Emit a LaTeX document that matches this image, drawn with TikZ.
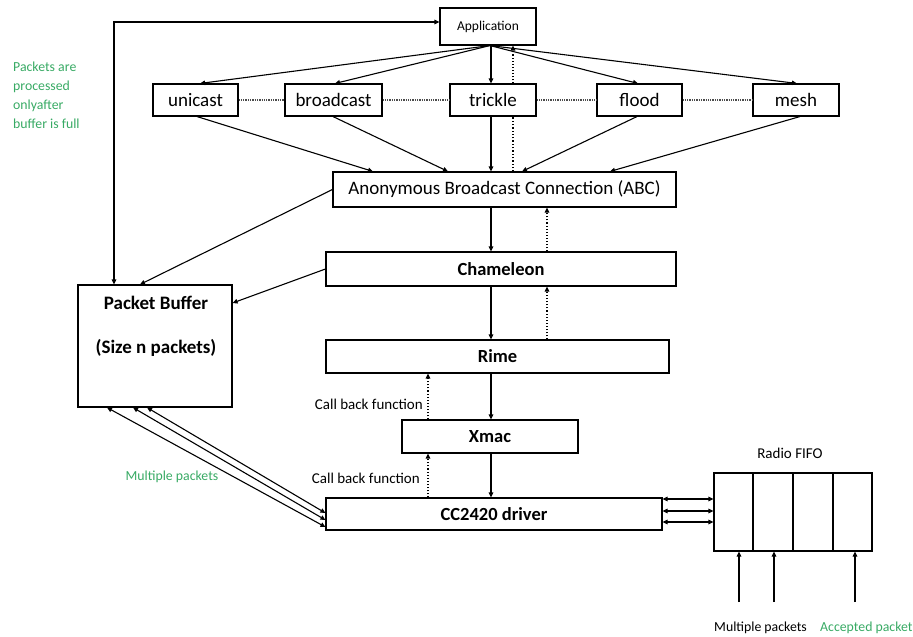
\documentclass[tikz,border=0pt]{standalone}
\usepackage{fontspec}
\setmainfont{Carlito}
\usetikzlibrary{arrows.meta,calc}
\definecolor{grn}{RGB}{56,170,100}
\begin{document}
\begin{tikzpicture}[x=1pt,y=-1pt,
  box/.style={draw, line width=1.1pt, inner sep=0pt, font=\fontsize{19}{22}\selectfont},
  bbox/.style={box, font=\fontsize{18.5}{21}\selectfont\bfseries},
  ar/.style={line width=1.1pt, -{Triangle[length=5pt,width=4.5pt]}},
  dar/.style={ar, dotted, line width=1.3pt},
  bar/.style={line width=1.1pt, {Triangle[length=5pt,width=4.5pt]}-{Triangle[length=5pt,width=4.5pt]}},
  link/.style={densely dotted, line width=1.3pt, black!70},
  lbl/.style={font=\fontsize{15}{17}\selectfont, inner sep=0pt},
  glbl/.style={font=\fontsize{13.8}{19}\selectfont, text=grn, inner sep=0pt}]
\useasboundingbox (0,0) rectangle (913,637);

% nodes
\node[box, font=\fontsize{13.5}{15}\selectfont, minimum width=96pt, minimum height=37pt] (app) at (488,26.5) {Application};
\node[box, minimum width=85pt, minimum height=32pt] (uni) at (195.5,100) {unicast};
\node[box, minimum width=97pt, minimum height=32pt] (bro) at (333.5,100) {broadcast};
\node[box, minimum width=86pt, minimum height=32pt] (tri) at (493,100) {trickle};
\node[box, minimum width=85pt, minimum height=32pt] (flo) at (639.5,100) {flood};
\node[box, minimum width=86pt, minimum height=32pt] (mes) at (796,100) {mesh};
\node[box, minimum width=343pt, minimum height=35pt] (abc) at (504.5,189.5) {Anonymous Broadcast Connection (ABC)};
\node[bbox, minimum width=350pt, minimum height=34pt] (cham) at (501,269) {Chameleon};
\node[bbox, minimum width=343pt, minimum height=33pt] (rime) at (497.5,356.5) {Rime};
\node[bbox, minimum width=176pt, minimum height=33pt] (xmac) at (490,436.5) {Xmac};
\node[bbox, minimum width=336pt, minimum height=32pt] (cc) at (494,514) {CC2420 driver};
\node[box, minimum width=154pt, minimum height=122pt] (buf) at (155,346) {};
\node[font=\fontsize{19}{22}\selectfont\bfseries, inner sep=0pt] (buft1) at (156,303) {Packet Buffer};
\node[font=\fontsize{19}{22}\selectfont\bfseries, inner sep=0pt] (buft2) at (156,348) {(Size n packets)};
\node[box, minimum width=158pt, minimum height=78pt] (fifo) at (793,512) {};
\draw[line width=1.1pt] (fifo.north -| 753,0) -- (fifo.south -| 753,0);
\draw[line width=1.1pt] (fifo.north -| 793,0) -- (fifo.south -| 793,0);
\draw[line width=1.1pt] (fifo.north -| 833,0) -- (fifo.south -| 833,0);

% labels
\node[glbl, anchor=north west, align=left] (note) at (13,62) {Packets are\\processed\\onlyafter\\buffer is full};
\node[lbl, anchor=east] (cb1) at (423,404) {Call back function};
\node[lbl, anchor=east] (cb2) at (420,478) {Call back function};
\node[glbl] (mp1) at (172,477) {Multiple packets};
\node[lbl] (rf) at (790,453) {Radio FIFO};
\node[glbl, text=black, anchor=west] (mp2) at (714,628) {Multiple packets};
\node[glbl, anchor=west] (acc) at (820,628) {Accepted packet};

% horizontal dotted links
\draw[link] (uni.east) -- (bro.west);
\draw[link] (bro.east) -- (tri.west);
\draw[link] (tri.east) -- (flo.west);
\draw[link] (flo.east) -- (mes.west);

% application fan
\coordinate (af) at ($(app.south)+(2,0)$);
\draw[ar] (af) -- (uni.north -| 200,0);
\draw[ar] (af) -- (bro.north -| 335,0);
\draw[ar] (app.south -| 491,0) -- (tri.north -| 491,0);
\draw[ar] (af) -- (flo.north -| 638,0);
\draw[ar] (af) -- (mes.north -| 797,0);
\draw[dar] (tri.north -| 513,0) -- (app.south -| 513,0);
\draw[line width=1.3pt, dotted] (abc.north -| 513,0) -- (tri.south -| 513,0);

% row to ABC
\draw[ar] (uni.south -| 197,0) -- (abc.north -| 373,0);
\draw[ar] (bro.south -| 333,0) -- (abc.north -| 448,0);
\draw[ar] (tri.south -| 491,0) -- (abc.north -| 491,0);
\draw[ar] (flo.south -| 637,0) -- (abc.north -| 522,0);
\draw[ar] (mes.south -| 800,0) -- (abc.north -| 610,0);

% stack
\draw[ar] (abc.south -| 491,0) -- (cham.north -| 491,0);
\draw[dar] (cham.north -| 547,0) -- (abc.south -| 547,0);
\draw[ar] (cham.south -| 491,0) -- (rime.north -| 491,0);
\draw[dar] (rime.north -| 547,0) -- (cham.south -| 547,0);
\draw[ar] (rime.south -| 491,0) -- (xmac.north -| 491,0);
\draw[dar] (xmac.north -| 428,0) -- (rime.south -| 428,0);
\draw[ar] (xmac.south -| 491,0) -- (cc.north -| 491,0);
\draw[dar] (cc.north -| 428,0) -- (xmac.south -| 428,0);

% packet buffer links
\draw[bar] (buf.north -| 114,0) |- (app.west |- 0,22);
\draw[ar] (abc.west) -- (buf.north -| 140,0);
\draw[ar] (cham.west) -- (buf.east |- 0,303);
\draw[bar] (buf.south -| 107,0) -- (cc.west |- 0,527);
\draw[bar] (buf.south -| 133,0) -- (cc.west |- 0,520);
\draw[bar] (buf.south -| 147,0) -- (cc.west |- 0,513);

% cc to fifo
\draw[bar] (cc.east |- 0,499) -- (fifo.west |- 0,499);
\draw[bar] (cc.east |- 0,511) -- (fifo.west |- 0,511);
\draw[bar] (cc.east |- 0,522) -- (fifo.west |- 0,522);

% inputs to fifo
\coordinate (in1) at (739,602);
\coordinate (in2) at (774,602);
\coordinate (in3) at (855,602);
\draw[ar] (in1) -- (fifo.south -| in1);
\draw[ar] (in2) -- (fifo.south -| in2);
\draw[ar] (in3) -- (fifo.south -| in3);
\end{tikzpicture}
\end{document}
